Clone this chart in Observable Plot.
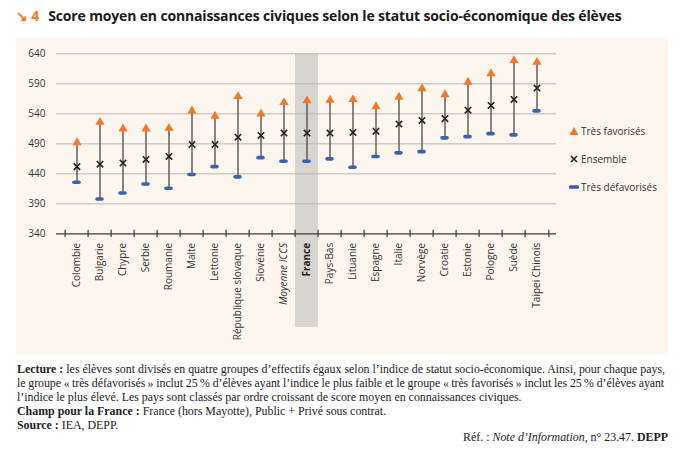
<!DOCTYPE html>
<html><head><meta charset="utf-8">
<script src="https://cdn.jsdelivr.net/npm/d3@7"></script>
<script src="https://cdn.jsdelivr.net/npm/@observablehq/plot@0.6"></script>
<style>
body{margin:0;background:#fff;width:680px;height:450px;position:relative;overflow:hidden;font-family:"Open Sans",sans-serif;}
#title{position:absolute;left:16px;top:6px;font-size:14px;font-weight:700;color:#1a1a1a;white-space:nowrap;letter-spacing:-0.15px;}
#title .num{color:#f07a28;margin-right:9px;}
#panel{position:absolute;left:16px;top:38px;width:652px;height:316px;background:#fdf6ee;}
#chart svg{position:absolute;left:0;top:0;}
.leg{position:absolute;left:553px;font-size:10px;color:#333;white-space:nowrap;display:flex;align-items:center;}
.leg svg{margin-right:2px;}
#notes{position:absolute;left:17px;top:362px;width:660px;font-family:"Liberation Serif",serif;font-size:11.9px;line-height:14px;color:#222;white-space:nowrap;}
#notes b{font-weight:700;}
#notes .tight{letter-spacing:-0.07px;}
#ref{position:absolute;right:12px;top:430px;font-family:"Liberation Serif",serif;font-size:11.9px;color:#222;}
</style></head>
<body>
<div id="title"><span class="num">↘ 4</span>Score moyen en connaissances civiques selon le statut socio-économique des élèves</div>
<div id="panel">
  <div id="chart"></div>
  <div class="leg" style="top:86px"><svg width="10" height="10"><path d="M5,1 L9.5,9 L0.5,9 Z" fill="#f07a28"/></svg>Très favorisés</div>
  <div class="leg" style="top:114px"><svg width="10" height="10"><path d="M2,2 L8,8 M8,2 L2,8" stroke="#222" stroke-width="1.6"/></svg>Ensemble</div>
  <div class="leg" style="top:142px"><svg width="10" height="10"><line x1="1.5" y1="5" x2="8.5" y2="5" stroke="#3b62ae" stroke-width="3.6" stroke-linecap="round"/></svg>Très défavorisés</div>
</div>
<div id="notes">
<b>Lecture :</b> les élèves sont divisés en quatre groupes d’effectifs égaux selon l’indice de statut socio-économique. Ainsi, pour chaque pays,<br>
<span class="tight">le groupe «&#8239;très défavorisés&#8239;» inclut 25&#8239;% d’élèves ayant l’indice le plus faible et le groupe «&#8239;très favorisés&#8239;» inclut les 25&#8239;% d’élèves ayant</span><br>
l’indice le plus élevé. Les pays sont classés par ordre croissant de score moyen en connaissances civiques.<br>
<b>Champ pour la France :</b> France (hors Mayotte), Public + Privé sous contrat.<br>
<b>Source :</b> IEA, DEPP.
</div>
<div id="ref">Réf. : <i>Note d’Information</i>, n° 23.47. <b>DEPP</b></div>
<script>
const countries = ["Colombie","Bulgarie","Chypre","Serbie","Roumanie","Malte","Lettonie","République slovaque","Slovénie","Moyenne ICCS","France","Pays-Bas","Lituanie","Espagne","Italie","Norvège","Croatie","Estonie","Pologne","Suède","Taipei Chinois"];
const high = [492,526,515,515,516,545,536,569,540,559,562,563,564,552,568,582,572,593,607,629,626];
const mean = [452,456,458,464,469,489,489,501,504,508,508,508,509,511,523,529,532,546,554,564,583];
const low  = [426,398,408,423,416,439,452,435,467,461,461,465,451,469,475,477,500,502,507,505,545];
const yTicks = [340,390,440,490,540,590,640];
const highlighted = "France";
const italicLabel = "Moyenne ICCS";

const data = countries.map((c,i)=>({country:c, high:high[i], mean:mean[i], low:low[i]}));
const W = 652, H = 316, mL = 40, mR = 112, mT = 15.33, mB = 120.67;
const bw = (W - mL - mR) / countries.length;
const plot = Plot.plot({
  width: W, height: H,
  marginLeft: mL, marginRight: mR, marginTop: mT, marginBottom: mB,
  style: {background: "transparent", fontFamily: "Open Sans, sans-serif", fontSize: "10px", color: "#333", overflow: "visible"},
  x: {type: "band", domain: countries, padding: 0, axis: null},
  y: {domain: [340, 640], axis: null},
  marks: [
    Plot.barY([highlighted], {x: d => d, y1: 640, y2: 184, fill: "#d8d4cf"}),
    Plot.ruleY(yTicks.filter(t => t > 340), {stroke: "#b8b6b3", strokeWidth: 1}),
    Plot.axisY({ticks: yTicks, tickSize: 0, tickPadding: 11, tickFormat: d => d, fontSize: 10, fill: "#333"}),
    Plot.ruleY([340], {stroke: "#3a3a3a", strokeWidth: 1.2}),
    Plot.ruleX(countries, {x: d => d, dx: -bw/2, y1: 346, y2: 334, stroke: "#3a3a3a", strokeWidth: 1.2}),
    Plot.ruleX([countries[countries.length-1]], {x: d => d, dx: bw/2, y1: 346, y2: 334, stroke: "#3a3a3a", strokeWidth: 1.2}),
    Plot.text(countries.filter(c => c !== highlighted && c !== italicLabel), {x: d => d, y: 340, text: d => d, rotate: -90, textAnchor: "end", dy: 9, fontSize: 10, fill: "#333"}),
    Plot.text([italicLabel], {x: d => d, y: 340, text: d => d, rotate: -90, textAnchor: "end", dy: 9, fontSize: 10, fontStyle: "italic", fill: "#333"}),
    Plot.text([highlighted], {x: d => d, y: 340, text: d => d, rotate: -90, textAnchor: "end", dy: 9, fontSize: 10, fontWeight: "bold", fill: "#222"}),
    Plot.ruleX(data, {x: "country", y1: "low", y2: "high", stroke: "#555", strokeWidth: 1.4}),
    Plot.tickY(data, {x: "country", y: "low", stroke: "#3b62ae", strokeWidth: 3.6, strokeLinecap: "round", insetLeft: 9, insetRight: 9}),
    Plot.dot(data, {x: "country", y: "mean", symbol: "times", r: 3, stroke: "#222", strokeWidth: 1.6}),
    Plot.dot(data, {x: "country", y: "high", symbol: "triangle", r: 3.4, fill: "#f07a28", stroke: "none"})
  ]
});
document.getElementById("chart").appendChild(plot);
</script>
</body></html>
